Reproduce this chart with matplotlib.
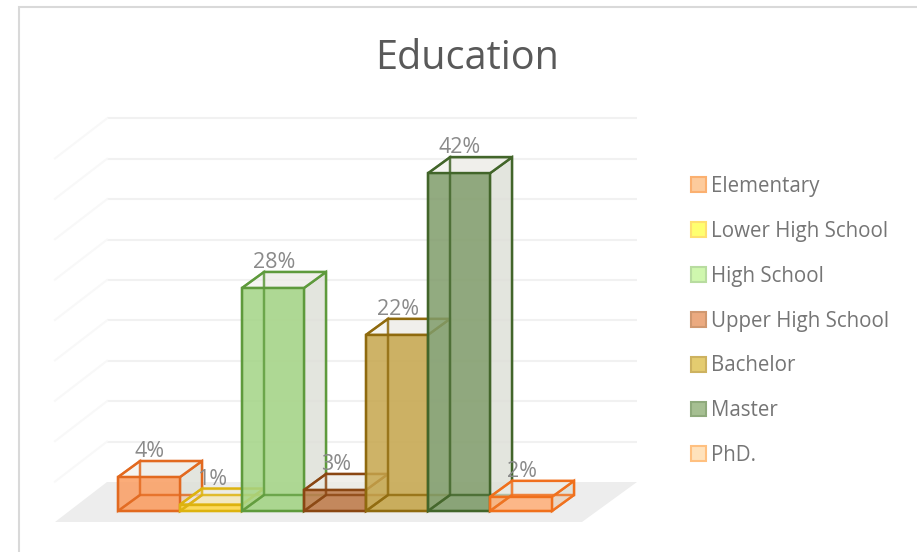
import matplotlib
matplotlib.use('Agg')
import matplotlib.pyplot as plt
from matplotlib.colors import to_rgba
from matplotlib.patches import Patch, Polygon, Rectangle

categories = ['Elementary', 'Lower High School', 'High School', 'Upper High School',
              'Bachelor', 'Master', 'PhD.']
values = [4.2, 0.8, 27.6, 2.6, 21.8, 41.8, 1.75]
labels = ['4%', '1%', '28%', '3%', '22%', '42%', '2%']
gridValues = [0, 5, 10, 15, 20, 25, 30, 35, 40, 45]
faceColors = ['#FB9E62', '#FFD84A', '#A3D485', '#BE7C4C', '#C6A64C', '#7F9C6A', '#FFB27C']
edgeColors = ['#E2691F', '#DDB30F', '#5E9A3C', '#8A4612', '#8F6A0E', '#42652A', '#F0701C']
legendColors = ['#FDCB9C', '#FFFF70', '#CFF7AE', '#EBAA80', '#E4CC70', '#A6BF92', '#FFE2BC']
legendEdges = ['#FBB070', '#FFE070', '#B8DCA0', '#D09870', '#CDB260', '#8FAA7C', '#FFC080']

W, H = 917, 552
PX_X = 62.0   # pixels per category
PX_Y = 8.08   # pixels per percent
X0, Y0 = 118, 511  # pixel of first bar's front bottom corner

DX = 22 / PX_X
DY = 16 / PX_Y
FLOOR_LEFT, FLOOR_RIGHT = -63 / PX_X, 464 / PX_X
FLOOR_FRONT = -11 / PX_Y
WALL_DX = 52 / PX_X
WALL_DY = 40 / PX_Y
GRID_COLOR = '#F1F1F1'
TEXT_COLOR = '#8A8A8A'

plt.rcParams['font.family'] = ['Open Sans', 'DejaVu Sans']

fig = plt.figure(figsize=(W / 100, H / 100), dpi=100)
ax = fig.add_axes([0, 0, 1, 1])
ax.set_xlim(-X0 / PX_X, (W - X0) / PX_X)
ax.set_ylim((Y0 - H) / PX_Y, Y0 / PX_Y)
ax.axis('off')

# chart frame
fig.add_artist(Rectangle((18.5 / W, -0.02), 0.99, 1 - 6.5 / H + 0.02, transform=fig.transFigure,
                         fill=False, edgecolor='#D9D9D9', linewidth=1.5))

# floor and walls
backY = FLOOR_FRONT + WALL_DY
floor = [(FLOOR_LEFT, FLOOR_FRONT), (FLOOR_RIGHT, FLOOR_FRONT),
         (FLOOR_RIGHT + WALL_DX + 3 / PX_X, backY), (FLOOR_LEFT + WALL_DX, backY)]
ax.add_patch(Polygon(floor, closed=True, facecolor='#EDEDED', edgecolor='none', zorder=1))
for g in gridValues[1:]:
    y = backY + g
    ax.plot([FLOOR_LEFT + WALL_DX, FLOOR_RIGHT + WALL_DX + 3 / PX_X], [y, y],
            color=GRID_COLOR, lw=1.5, zorder=1, solid_capstyle='butt')
    ax.plot([FLOOR_LEFT, FLOOR_LEFT + WALL_DX], [y - WALL_DY, y], color='#F8F8F8', lw=1.5, zorder=1)


def drawBar(i, v, face, edge):
    z = 3 + i * 0.01
    l, r = i, i + 1
    lw = 1.7
    # back and side faces, then front fill, then the lines that show through it
    ax.add_patch(Polygon([(l + DX, DY), (r + DX, DY), (r + DX, v + DY), (l + DX, v + DY)],
                         facecolor=to_rgba('#E9E6E0', 0.55), edgecolor=edge, lw=lw, zorder=z))
    ax.add_patch(Polygon([(r, 0), (r + DX, DY), (r + DX, v + DY), (r, v)],
                         facecolor=to_rgba('#DDE0D8', 0.7), edgecolor=edge, lw=lw, zorder=z))
    ax.add_patch(Polygon([(l, v), (r, v), (r + DX, v + DY), (l + DX, v + DY)],
                         facecolor=to_rgba('#EFEFEA', 0.6), edgecolor=edge, lw=lw, zorder=z))
    ax.add_patch(Rectangle((l, 0), 1, v, facecolor=to_rgba(face, 0.85), edgecolor='none', zorder=z))
    inner = to_rgba(edge, 0.75)
    ax.add_patch(Polygon([(l, 0), (r, 0), (r + DX, DY), (l + DX, DY)],
                         facecolor=to_rgba(face, 0.25), edgecolor=inner, lw=lw, zorder=z))
    ax.add_patch(Polygon([(l, 0), (l + DX, DY), (l + DX, v + DY), (l, v)],
                         facecolor='none', edgecolor=inner, lw=lw, zorder=z))
    ax.add_patch(Rectangle((l, 0), 1, v, facecolor='none', edgecolor=edge, lw=lw, zorder=z))


for i in range(len(categories)):
    drawBar(i, values[i], faceColors[i], edgeColors[i])

for i, lab in enumerate(labels):
    ax.text(i + 0.5 + 1 / PX_X, values[i] + DY + 9.5 / PX_Y, lab, ha='center', va='center', fontsize=15.5,
            color=TEXT_COLOR, zorder=10)

fig.text(467.5 / W, 1 - 59 / H, 'Education', ha='center', va='center', fontsize=28.5, color='#595959')

handles = [Patch(facecolor=c, edgecolor=e, lw=1.5) for c, e in zip(legendColors, legendEdges)]
fig.legend(handles, categories, loc='upper left', bbox_to_anchor=(691 / W, 1 - 176 / H),
           frameon=False, fontsize=14.8, labelcolor='#757575', handlelength=0.73, handleheight=0.73,
           handletextpad=0.25, labelspacing=1.16, borderpad=0, borderaxespad=0)

plt.savefig('out.png', dpi=100)
